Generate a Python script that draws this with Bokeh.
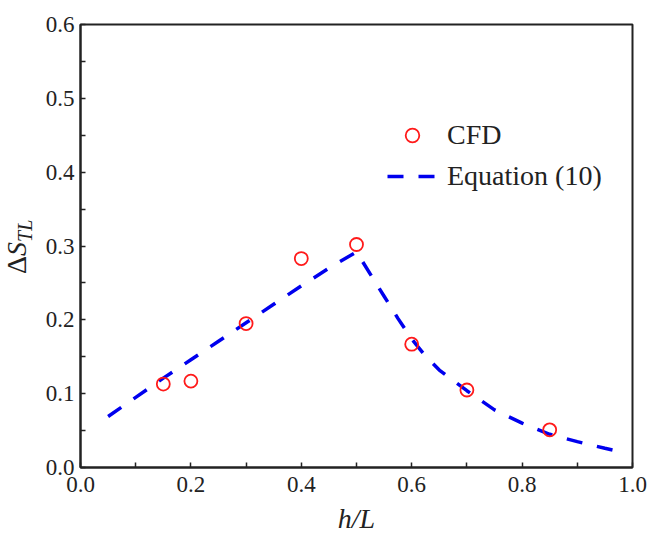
from bokeh.plotting import figure
from bokeh.models import (Range1d, FixedTicker, PrintfTickFormatter, Legend,
                          LegendItem, Div)
from bokeh.layouts import row
from bokeh.embed import file_html
from bokeh.resources import INLINE

# ---- data ----
CFD_X = [0.15, 0.2, 0.3, 0.4, 0.5, 0.6, 0.7, 0.85]
CFD_Y = [0.113, 0.117, 0.195, 0.283, 0.302, 0.167, 0.105, 0.051]

EQ_X = [0.05, 0.1, 0.15, 0.2, 0.25, 0.3, 0.35, 0.4, 0.45, 0.5, 0.525, 0.55,
        0.575, 0.6, 0.625, 0.65, 0.7, 0.75, 0.8, 0.85, 0.9, 0.95, 0.98]
EQ_Y = [0.069, 0.095, 0.121, 0.146, 0.171, 0.196, 0.221, 0.246, 0.270, 0.292,
        0.262, 0.232, 0.202, 0.174, 0.151, 0.132, 0.104, 0.078, 0.060, 0.045,
        0.035, 0.026, 0.021]

X_TICKS = [0.0, 0.2, 0.4, 0.6, 0.8, 1.0]
X_MINOR = [0.1, 0.3, 0.5, 0.7, 0.9]
Y_TICKS = [0.0, 0.1, 0.2, 0.3, 0.4, 0.5, 0.6]
Y_MINOR = [0.05, 0.15, 0.25, 0.35, 0.45, 0.55]

LEGEND_CFD = "CFD"
LEGEND_EQ = "Equation (10)"
X_LABEL = "h/L"
Y_LABEL_MAIN = "Δ"
Y_LABEL_VAR = "S"
Y_LABEL_SUB = "TL"

FONT = "Liberation Serif"
INK = "#222222"
DIV_W = 40

p = figure(width=649 - DIV_W, height=536, x_range=Range1d(0, 1),
           y_range=Range1d(0, 0.6), output_backend="svg", toolbar_location=None,
           min_border_left=80 - DIV_W, min_border_right=17, min_border_top=24,
           min_border_bottom=69, background_fill_color="white",
           border_fill_color="white")

p.xgrid.visible = False
p.ygrid.visible = False
p.outline_line_color = INK
p.outline_line_width = 2

p.xaxis.ticker = FixedTicker(ticks=X_TICKS, minor_ticks=X_MINOR)
p.yaxis.ticker = FixedTicker(ticks=Y_TICKS, minor_ticks=Y_MINOR)
for ax in (p.xaxis, p.yaxis):
    ax.formatter = PrintfTickFormatter(format="%.1f")
    ax.axis_line_color = INK
    ax.axis_line_width = 2
    ax.major_tick_in = 5
    ax.major_tick_out = 0
    ax.minor_tick_in = 5
    ax.minor_tick_out = 0
    ax.major_tick_line_color = INK
    ax.minor_tick_line_color = INK
    ax.major_tick_line_width = 1.5
    ax.minor_tick_line_width = 1.5
    ax.major_label_text_font = FONT
    ax.major_label_text_font_size = "23px"
    ax.major_label_text_color = INK
p.yaxis.major_label_standoff = 6
p.xaxis.major_label_standoff = 9

p.xaxis.axis_label = X_LABEL
p.xaxis.axis_label_text_font = FONT
p.xaxis.axis_label_text_font_size = "28px"
p.xaxis.axis_label_text_font_style = "italic"
p.xaxis.axis_label_text_color = INK
p.xaxis.axis_label_standoff = 8

eq = p.line(EQ_X, EQ_Y, line_color="#0000ee", line_width=3.5, line_dash="16 15")
cfd = p.scatter(CFD_X, CFD_Y, marker="circle", size=13, fill_color=None,
                line_color="#ff1a1a", line_width=1.8)

legend = Legend(items=[LegendItem(label=LEGEND_CFD, renderers=[cfd]),
                       LegendItem(label=LEGEND_EQ, renderers=[eq])],
                location=(307, 274), glyph_width=50, glyph_height=34,
                label_height=34, label_standoff=10, spacing=7, padding=0,
                margin=0, border_line_color=None, background_fill_alpha=0,
                label_text_font=FONT, label_text_font_size="28px",
                label_text_color=INK)
p.add_layout(legend)

# y-axis label  ΔS_TL  (rotated HTML text in a narrow column left of the plot)
ylabel_html = (
    f'<div style="position:relative;width:{DIV_W}px;height:536px;background:white;">'
    '<div style="position:absolute;left:3px;top:274px;transform-origin:0 0;'
    'transform:rotate(-90deg);white-space:nowrap;font-family:\'Liberation Serif\';'
    f'font-size:28px;line-height:1;color:{INK};">'
    f'{Y_LABEL_MAIN}<i>{Y_LABEL_VAR}</i>'
    f'<span style="font-size:20px;position:relative;top:6px;"><i>{Y_LABEL_SUB}</i></span>'
    '</div></div>'
)
ydiv = Div(text=ylabel_html, width=DIV_W, height=536, margin=0)

layout = row(ydiv, p, spacing=0)

open("out.html", "w").write(file_html(layout, INLINE, title="chart"))
